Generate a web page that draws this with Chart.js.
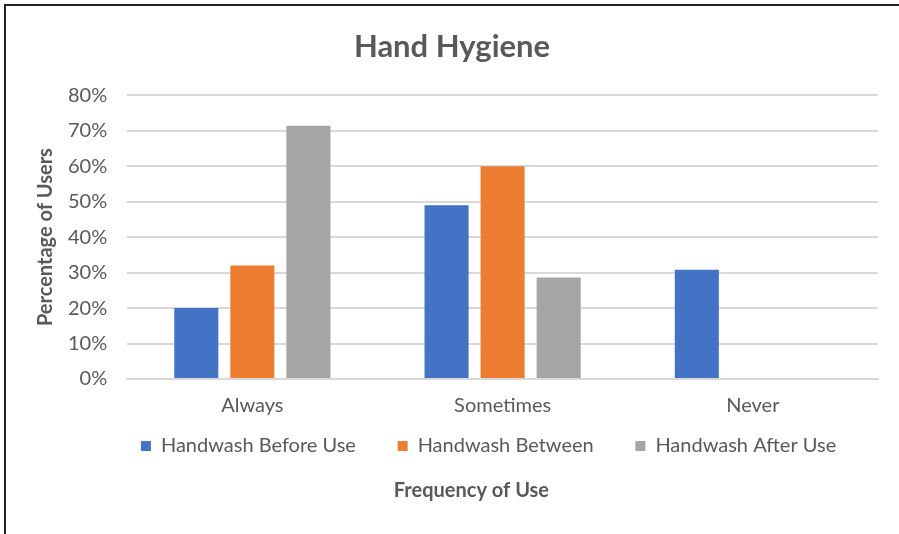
<!DOCTYPE html>
<html>
<head>
<meta charset="utf-8">
<script src="https://cdn.jsdelivr.net/npm/chart.js@4.4.0/dist/chart.umd.min.js"></script>
<style>
  html, body { margin: 0; padding: 0; background: #fff; overflow: hidden; }
  #frame { position: absolute; left: 4px; top: 4px; width: 893px; height: 528px;
           border-left: 2px solid #222; border-top: 2px solid #222; }
</style>
</head>
<body>
<div id="frame"><canvas id="chart"></canvas></div>
<script>
// values (percent)
const categories = ['Always', 'Sometimes', 'Never']
const beforeUse = [20, 49, 30.8]
const between = [32, 60, 0]
const afterUse = [71.4, 28.6, 0]
const seriesNames = ['Handwash Before Use', 'Handwash Between', 'Handwash After Use']

const textColor = '#595959'
const fontFamily = 'Lato, "Open Sans", sans-serif'
// wider gap between legend entries without adding vertical padding
const legendGap = ' '.repeat(6)

new Chart(document.getElementById('chart'), {
    type: 'bar',
    data: {
        labels: categories,
        datasets: [
            { label: seriesNames[0], data: beforeUse, backgroundColor: '#4472C4' },
            { label: seriesNames[1], data: between, backgroundColor: '#ED7D31' },
            { label: seriesNames[2], data: afterUse, backgroundColor: '#A5A5A5' }
        ]
    },
    options: {
        responsive: true,
        maintainAspectRatio: false,
        animation: false,
        categoryPercentage: 0.672,
        barPercentage: 0.786,
        layout: { padding: { left: 20, right: 21, top: 0, bottom: 31 } },
        scales: {
            x: {
                grid: { display: false },
                border: { color: '#d9d9d9', width: 2 },
                ticks: { color: textColor, padding: 7, font: { family: fontFamily, size: 20 } }
            },
            y: {
                min: 0,
                max: 80,
                ticks: {
                    stepSize: 10,
                    color: textColor,
                    padding: 20,
                    font: { family: fontFamily, size: 20 },
                    callback: v => v + '%'
                },
                grid: { color: '#d9d9d9', lineWidth: 2, drawTicks: false },
                border: { display: false },
                title: {
                    display: true,
                    text: 'Percentage of Users',
                    color: textColor,
                    padding: { top: 8, bottom: -10 },
                    font: { family: fontFamily, size: 20, weight: 'bold' }
                }
            }
        },
        plugins: {
            title: {
                display: true,
                text: 'Hand Hygiene',
                color: textColor,
                padding: { top: 22, bottom: 30 },
                font: { family: fontFamily, size: 31, weight: 'bold' }
            },
            legend: {
                position: 'bottom',
                align: 'end',
                labels: {
                    color: textColor,
                    boxWidth: 10,
                    boxHeight: 10,
                    padding: 11,
                    font: { family: fontFamily, size: 20 },
                    generateLabels: chart => Chart.defaults.plugins.legend.labels.generateLabels(chart)
                        .map(item => ({ ...item, text: item.text + legendGap }))
                }
            },
            subtitle: {
                display: true,
                position: 'bottom',
                text: ' '.repeat(8) + 'Frequency of Use',
                color: textColor,
                padding: { top: 13, bottom: 0 },
                font: { family: fontFamily, size: 20, weight: 'bold' }
            },
            tooltip: { enabled: false }
        }
    }
})
</script>
</body>
</html>
